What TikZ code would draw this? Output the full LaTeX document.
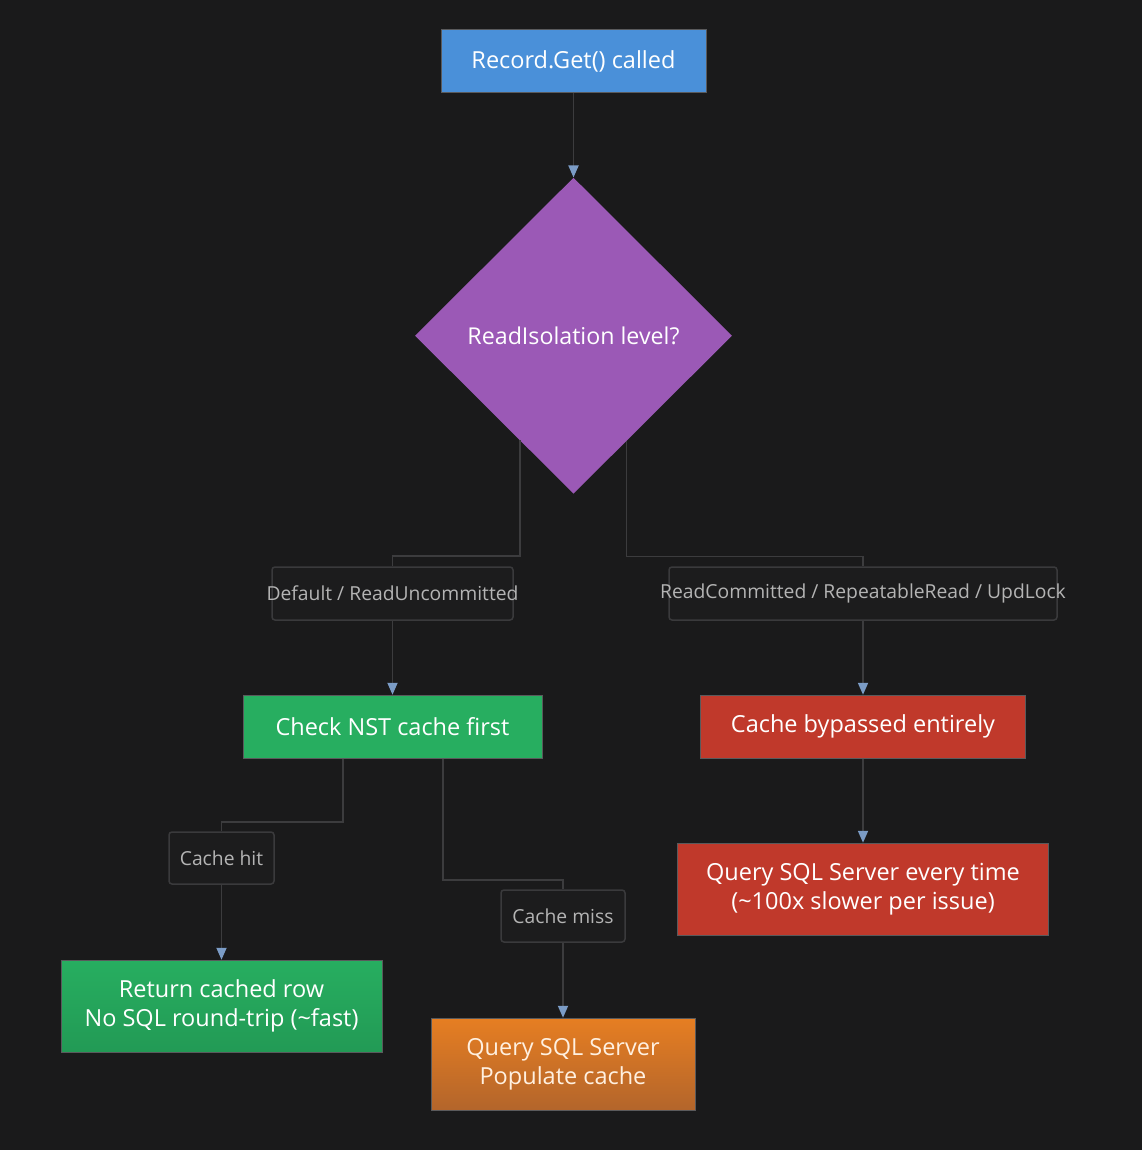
\documentclass[tikz,border=0pt]{standalone}
\usepackage{fontspec}
\setmainfont{Open Sans}
\usetikzlibrary{arrows.meta,positioning,shapes.geometric}
\definecolor{bg}{HTML}{1A1A1B}
\definecolor{wire}{HTML}{3C3C3E}
\definecolor{tip}{HTML}{7B9CC6}
\definecolor{edge}{HTML}{5A5A5C}
\definecolor{lbledge}{HTML}{3A3A3C}
\definecolor{lblfill}{HTML}{1C1C1D}
\definecolor{lbltext}{HTML}{B4B4B4}
\definecolor{callblue}{HTML}{4A90D9}
\definecolor{decpurple}{HTML}{9B59B6}
\definecolor{hitgreen}{HTML}{27AE60}
\definecolor{hitgreendark}{HTML}{229A55}
\definecolor{slowred}{HTML}{C0392B}
\definecolor{missorange}{HTML}{E67E22}
\definecolor{missorangedark}{HTML}{B3652B}

\begin{document}
\begin{tikzpicture}[x=1pt,y=-1pt,
  box/.style={draw=edge,line width=1pt,text=white,inner sep=0pt,align=center,font=\fontsize{23.5}{29}\selectfont},
  lbl/.style={draw=lbledge,line width=1.5pt,rounded corners=3pt,fill=lblfill,text=lbltext,inner sep=0pt,font=\fontsize{19.3}{23}\selectfont,
    execute at begin node=\hbox to 0pt\bgroup\hss,execute at end node=\hss\egroup},
  wire/.style={draw=wire,line width=1.8pt},
  arr/.style={wire,-{Triangle[width=10pt,length=12pt,color=tip]}}]
  \fill[bg] (0,0) rectangle (1142,1150);
  \useasboundingbox (0,0) rectangle (1142,1150);
  \node[box,fill=callblue,minimum width=265pt,minimum height=63pt] (call) at (573.5,61.5) {Record.Get() called};
  \node[diamond,fill=decpurple,text=white,inner sep=0pt,minimum width=317pt,minimum height=316pt,font=\fontsize{23.2}{28}\selectfont] (iso) [below=84pt of call] {ReadIsolation level?};
  \node[lbl,minimum width=241pt,minimum height=53pt] (lblDefault) at (392.5,593.5) {Default / ReadUncommitted};
  \node[lbl,minimum width=388pt,minimum height=53pt] (lblCommitted) at (863,593.5) {ReadCommitted / RepeatableRead / UpdLock};
  \node[box,fill=hitgreen,minimum width=299pt,minimum height=63pt] (check) [below=74pt of lblDefault] {Check NST cache first};
  \node[box,fill=slowred,minimum width=325pt,minimum height=63pt] (bypass) [below=74pt of lblCommitted] {Cache bypassed entirely};
  \node[lbl,minimum width=105pt,minimum height=52pt] (lblHit) at (221.5,858) {Cache hit};
  \node[lbl,minimum width=124pt,minimum height=52pt] (lblMiss) at (563,916) {Cache miss};
  \node[box,top color=hitgreen,bottom color=hitgreendark,minimum width=321pt,minimum height=92pt] (ret) [below=75pt of lblHit] {Return cached row\\No SQL round-trip (\textasciitilde fast)};
  \node[box,top color=missorange,bottom color=missorangedark,text=white!88!orange,minimum width=264pt,minimum height=92pt] (populate) [below=75pt of lblMiss] {Query SQL Server\\Populate cache};
  \node[box,fill=slowred,minimum width=371pt,minimum height=92pt] (everytime) [below=84pt of bypass] {Query SQL Server every time\\(\textasciitilde 100x slower per issue)};
  \path[arr] (call) -- (iso);
  \path[wire] ([xshift=-53.5pt,yshift=53.5pt]iso.south) -- ++(0,115.5) -| (lblDefault.north);
  \path[wire] ([xshift=53pt,yshift=53pt]iso.south) -- ++(0,115.5) -| (lblCommitted.north);
  \path[arr] (lblDefault) -- (check);
  \path[arr] (lblCommitted) -- (bypass);
  \path[wire] ([xshift=-49.5pt]check.south) -- ++(0,63) -| (lblHit.north);
  \path[wire] ([xshift=50.5pt]check.south) -- ++(0,121) -| (lblMiss.north);
  \path[arr] (lblHit) -- (ret);
  \path[arr] (lblMiss) -- (populate);
  \path[arr] (bypass) -- (everytime);
\end{tikzpicture}
\end{document}
